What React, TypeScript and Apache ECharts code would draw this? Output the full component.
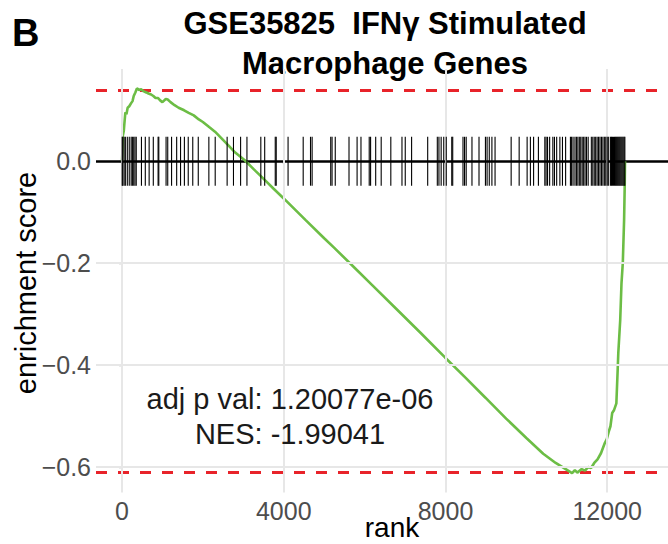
import React, { useEffect, useRef } from "react";
import * as echarts from "echarts";

const xTicks = [0, 4000, 8000, 12000];
const yTicks = [-0.6, -0.4, -0.2, 0];

const curveRank = [
  0, 10, 20, 45, 60, 83, 110, 140, 180, 226, 260, 290, 330, 369, 420, 480, 540, 600, 655, 720,
  775, 830, 893, 950, 1000, 1083, 1130, 1200, 1300, 1400, 1536, 1650, 1774, 1900, 2000, 2155,
  2300, 2450, 2631, 2800, 3036, 3300, 3560, 3750, 4000, 4536, 5000, 5250, 5726, 6200, 6774,
  7400, 7988, 8500, 8988, 9500, 10000, 10417, 10726, 10933, 11131, 11200, 11260, 11369, 11450,
  11528, 11600, 11679, 11760, 11845, 11940, 11990, 12036, 12080, 12123, 12170, 12226, 12258,
  12274, 12321, 12353, 12385, 12417, 12432, 12440,
];
const curveES = [
  0, 0.02, 0.05, 0.06, 0.075, 0.096, 0.092, 0.105, 0.108, 0.114, 0.118, 0.128, 0.135, 0.143,
  0.14, 0.141, 0.137, 0.135, 0.133, 0.131, 0.128, 0.124, 0.124, 0.119, 0.116, 0.122, 0.121,
  0.116, 0.11, 0.105, 0.1, 0.095, 0.09, 0.082, 0.077, 0.067, 0.058, 0.046, 0.031, 0.017, 0.002,
  -0.019, -0.039, -0.054, -0.073, -0.115, -0.151, -0.17, -0.207, -0.244, -0.289, -0.338,
  -0.385, -0.425, -0.464, -0.505, -0.543, -0.574, -0.592, -0.602, -0.612, -0.606, -0.611,
  -0.604, -0.607, -0.6, -0.602, -0.592, -0.585, -0.573, -0.553, -0.545, -0.531, -0.52, -0.494,
  -0.488, -0.475, -0.41, -0.376, -0.312, -0.239, -0.2, -0.116, -0.051, 0,
];

const hitRanks = [
  5, 19, 52, 83, 131, 179, 226, 257, 290, 321, 352, 481, 576, 671, 774, 893, 910, 1090, 1131,
  1226, 1352, 1448, 1543, 1638, 1750, 1886, 2148, 2305, 2600, 2757, 2933, 3090, 3433, 3529,
  3790, 3814, 4107, 4481, 4662, 4702, 5162, 5195, 5274, 5614, 5814, 5910, 6114, 6148, 6274,
  6410, 6648, 6924, 7005, 7162, 7560, 7798, 7838, 7893, 7957, 8019, 8155, 8179, 8433, 8471,
  8512, 8655, 8829, 8988, 9029, 9083, 9148, 9226, 9624, 9822, 10019, 10100, 10179, 10298,
  10457, 10488, 10524, 10576, 10655, 10695, 10750, 10829, 10893, 10971, 11090, 11119, 11155,
  11202, 11238, 11274, 11310, 11345, 11381, 11417, 11452, 11488, 11529, 11607, 11643, 11679,
  11714, 11750, 11786, 11821, 11857, 11893, 11929, 11964, 12000, 12036, 12083, 12107, 12131,
  12155, 12179, 12202, 12226, 12250, 12274, 12298, 12321, 12345, 12369, 12393, 12417, 12436,
];

const esMax = 0.143;
const esMin = -0.612;
const tickHalf = 0.048;

const panelLabel = "B";
const titleLines = ["GSE35825  IFNγ Stimulated", "Macrophage Genes"];
const annotationLines = ["adj p val: 1.20077e-06", "NES: -1.99041"];
const xName = "rank";
const yName = "enrichment score";

const FONT = "'Liberation Sans', Arial, Helvetica, sans-serif";
const GRID_COLOR = "#e7e7e7";

export default function App() {
  const ref = useRef<HTMLDivElement>(null);
  useEffect(() => {
    if (!ref.current) return;
    const chart = echarts.init(ref.current, null, { renderer: "svg" });
    const fmtY = (v: number) => (Math.abs(v) < 1e-9 ? "0.0" : "\u2212" + Math.abs(v).toFixed(1));
    const fmtX = (v: number) => String(Math.round(v));
    chart.setOption({
      animation: false,
      backgroundColor: "#ffffff",
      grid: { left: 96, right: -22, top: 69, bottom: 51.5, containLabel: false },
      xAxis: {
        type: "value",
        min: -643,
        max: 13503,
        axisLine: { show: false },
        splitLine: { show: false },
        axisTick: {
          show: true,
          customValues: xTicks,
          length: 3,
          lineStyle: { color: "#333333", width: 1.2 },
        },
        axisLabel: {
          customValues: xTicks,
          fontSize: 25,
          color: "#4d4d4d",
          fontFamily: FONT,
          margin: 6,
          formatter: fmtX,
        },
      },
      yAxis: {
        type: "value",
        min: -0.65,
        max: 0.181,
        axisLine: { show: false },
        splitLine: { show: false },
        axisTick: {
          show: true,
          customValues: yTicks,
          length: 3,
          lineStyle: { color: "#333333", width: 1.2 },
        },
        axisLabel: {
          customValues: yTicks,
          fontSize: 25,
          color: "#4d4d4d",
          fontFamily: FONT,
          margin: 5,
          formatter: fmtY,
        },
      },
      graphic: [
        {
          type: "text",
          left: 12,
          top: 14,
          style: { text: panelLabel, font: `bold 38px ${FONT}`, fill: "#000" },
        },
        {
          type: "text",
          x: 385,
          y: 23,
          style: {
            text: titleLines[0],
            font: `bold 31px ${FONT}`,
            fill: "#000",
            textAlign: "center",
            textVerticalAlign: "middle",
          },
        },
        {
          type: "text",
          x: 385,
          y: 63,
          style: {
            text: titleLines[1],
            font: `bold 31px ${FONT}`,
            fill: "#000",
            textAlign: "center",
            textVerticalAlign: "middle",
          },
        },
        {
          type: "text",
          x: 290,
          y: 399,
          z: 10,
          style: {
            text: annotationLines[0],
            font: `29px ${FONT}`,
            fill: "#1a1a1a",
            textAlign: "center",
            textVerticalAlign: "middle",
          },
        },
        {
          type: "text",
          x: 290,
          y: 434,
          z: 10,
          style: {
            text: annotationLines[1],
            font: `29px ${FONT}`,
            fill: "#1a1a1a",
            textAlign: "center",
            textVerticalAlign: "middle",
          },
        },
        {
          type: "text",
          x: 392,
          y: 527,
          style: {
            text: xName,
            font: `28px ${FONT}`,
            fill: "#000",
            textAlign: "center",
            textVerticalAlign: "middle",
          },
        },
        {
          type: "text",
          x: 26,
          y: 283,
          rotation: Math.PI / 2,
          style: {
            text: yName,
            font: `29px ${FONT}`,
            fill: "#000",
            textAlign: "center",
            textVerticalAlign: "middle",
          },
        },
      ],
      series: [
        {
          name: "grid",
          type: "line",
          z: 1,
          silent: true,
          showSymbol: false,
          symbol: "none",
          data: [[0, 0]],
          lineStyle: { opacity: 0 },
          markLine: {
            silent: true,
            symbol: ["none", "none"],
            animation: false,
            label: { show: false },
            lineStyle: { color: GRID_COLOR, width: 2, type: "solid", opacity: 1 },
            data: [
              ...xTicks.map((v) => ({ xAxis: v })),
              ...yTicks.filter((v) => v !== 0).map((v) => ({ yAxis: v })),
            ],
          },
        },
        {
          name: "refs",
          type: "line",
          data: [],
          silent: true,
          z: 2,
          markLine: {
            silent: true,
            z: 2,
            symbol: "none",
            label: { show: false },
            data: [
              { yAxis: esMax, lineStyle: { color: "#e8232a", width: 2.8, type: [11, 11] } },
              { yAxis: esMin, lineStyle: { color: "#e8232a", width: 2.8, type: [11, 11] } },
              { yAxis: 0, lineStyle: { color: "#000000", width: 2.5, type: "solid" } },
            ],
          },
        },
        {
          name: "enrichment",
          type: "line",
          z: 4,
          showSymbol: false,
          symbol: "none",
          silent: true,
          data: curveRank.map((r, i) => [r, curveES[i]]),
          lineStyle: { color: "#6cbd45", width: 2.6 },
        },
        {
          name: "hits",
          type: "custom",
          z: 5,
          silent: true,
          data: hitRanks.map((r) => [r, 0]),
          renderItem: (params: any, api: any) => {
            const top = api.coord([api.value(0), tickHalf]);
            const bot = api.coord([api.value(0), -tickHalf]);
            return {
              type: "line",
              shape: { x1: top[0], y1: top[1], x2: bot[0], y2: bot[1] },
              style: { stroke: "#000000", lineWidth: 1.1 },
            };
          },
        },
      ],
    });
    return () => chart.dispose();
  }, []);
  return (
    <div
      ref={ref}
      style={{ position: "absolute", left: 0, top: 0, width: 668, height: 544 }}
    />
  );
}
